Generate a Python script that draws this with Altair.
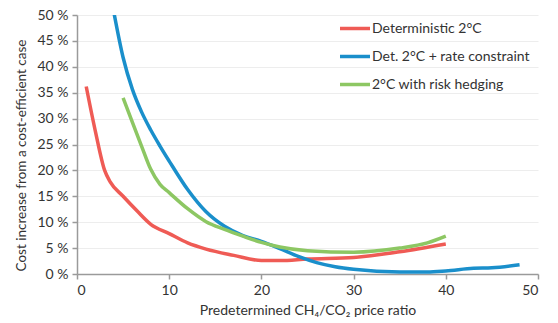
import altair as alt
import pandas as pd

series_names = ["Deterministic 2°C", "Det. 2°C + rate constraint", "2°C with risk hedging"]
colors = ["#EF5B55", "#1A8FCB", "#8DC763"]

red_x = [1, 2, 3, 3.6, 5, 6.5, 8, 10, 12, 14, 17, 20, 22, 25, 30, 35, 40]
red_y = [36.2, 27.5, 20.0, 17.8, 15.0, 12.2, 9.6, 7.8, 6.0, 4.8, 3.6, 2.6, 2.6, 2.9, 3.2, 4.3, 5.8]

blue_x = [4, 5, 6, 7, 8, 9, 10, 12, 14, 16, 18, 20, 22, 24, 26, 28, 30, 35, 38, 40, 43, 45, 48]
blue_y = [50.5, 41.8, 35.7, 31.3, 27.8, 24.7, 21.8, 16.3, 12.0, 9.2, 7.4, 6.3, 4.9, 3.4, 2.2, 1.4, 0.9, 0.4, 0.4, 0.6, 1.1, 1.2, 1.8]

green_x = [5, 6, 7, 8, 9, 10, 12, 14, 16, 18, 20, 22, 25, 30, 35, 38, 40]
green_y = [34.0, 29.3, 24.7, 20.2, 17.3, 15.7, 12.6, 10.1, 8.6, 7.3, 6.1, 5.2, 4.5, 4.2, 5.0, 6.0, 7.3]

rows = []
for name, xs, ys in zip(series_names, [red_x, blue_x, green_x], [red_y, blue_y, green_y]):
    for i, (x, y) in enumerate(zip(xs, ys)):
        rows.append({"series": name, "x": x, "y": y, "order": i})
df = pd.DataFrame(rows)

font = "Lato"

chart = alt.Chart(df).mark_line(strokeWidth=3.5, interpolate="monotone", clip=True).encode(
    x=alt.X("x:Q", scale=alt.Scale(domain=[0, 50], nice=False),
            axis=alt.Axis(values=[0, 10, 20, 30, 40, 50], grid=False,
                          title="Predetermined CH\u2084/CO\u2082 price ratio",
                          titlePadding=6)),
    y=alt.Y("y:Q", scale=alt.Scale(domain=[0, 50], nice=False),
            axis=alt.Axis(values=list(range(0, 55, 5)), grid=True,
                          labelExpr="datum.value + ' %'",
                          title="Cost increase from a cost-efficient case",
                          titleFontSize=13.5,
                          titleX=-56, titleY=140, titleBaseline="middle", titleAlign="center")),
    color=alt.Color("series:N", scale=alt.Scale(domain=series_names, range=colors),
                    legend=alt.Legend(title=None, orient="none", legendX=261, legendY=-3.5,
                                      symbolType="stroke", symbolSize=900, symbolStrokeWidth=3.5,
                                      labelFontSize=14, labelFont=font, labelColor="#333333",
                                      rowPadding=4, labelOffset=0)),
    order="order:O",
).properties(
    width=461, height=259,
    padding={"left": 77, "top": 15, "right": 20, "bottom": 49},
    autosize=alt.AutoSizeParams(type="none"),
).configure_view(stroke=None).configure_axis(
    labelFont=font, titleFont=font, labelFontSize=14, titleFontSize=14,
    labelColor="#333333", titleColor="#333333", titleFontWeight="normal",
    domainColor="#9A9A9A", domainWidth=1.5, tickColor="#9A9A9A", tickWidth=1.5, tickSize=5,
    gridColor="#EDEDED", gridWidth=1, labelPadding=4,
)

chart.save("out.html", embed_options={"renderer": "svg", "actions": False})
